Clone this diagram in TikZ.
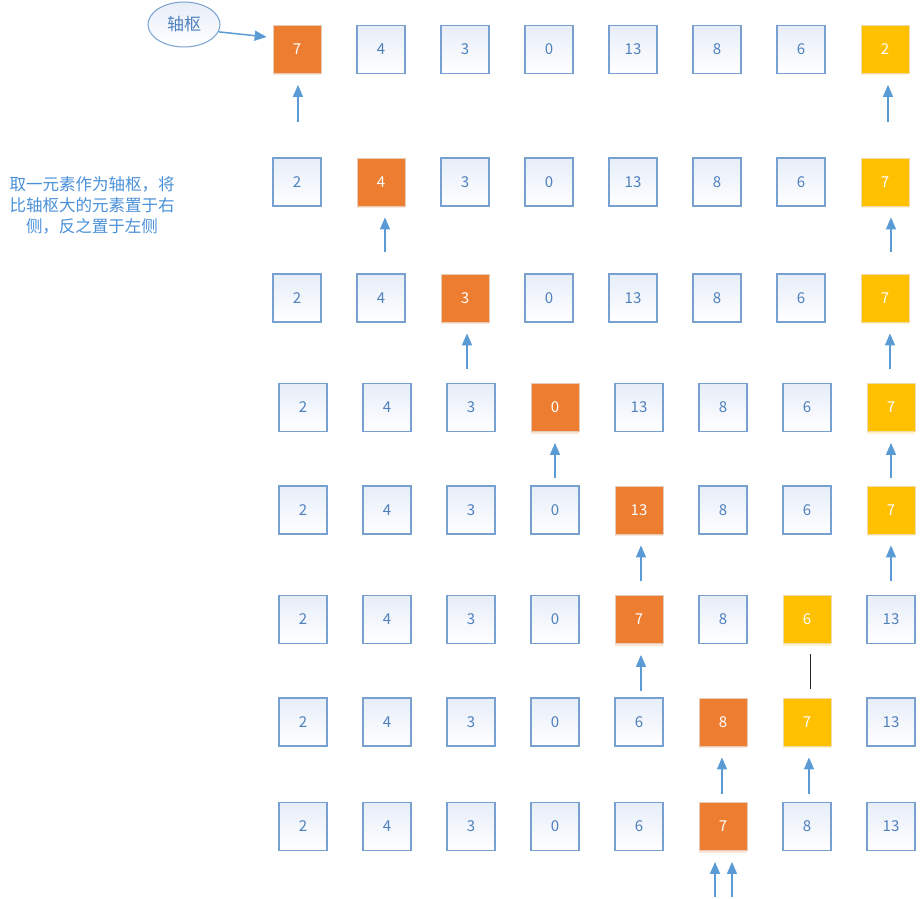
\documentclass[tikz,border=0pt]{standalone}
\usepackage{fontspec}
\setmainfont{Noto Sans CJK SC}
\usetikzlibrary{arrows.meta,positioning,shapes.geometric,shadows}
\definecolor{pivorange}{RGB}{237,125,49}
\definecolor{endyellow}{RGB}{255,192,0}
\definecolor{cellline}{RGB}{120,160,208}
\definecolor{cellfill}{RGB}{231,237,248}
\definecolor{celltext}{RGB}{79,129,189}
\definecolor{arrowblue}{RGB}{91,155,213}
\definecolor{notetext}{RGB}{74,144,217}

\begin{document}
\begin{tikzpicture}[
    x=1pt,y=-1pt,
    box/.style={rectangle,minimum width=48pt,minimum height=48pt,inner sep=0pt,
                font=\fontsize{15}{15}\selectfont},
    numbox/.style={box,draw=cellline,line width=1.1pt,top color=cellfill,
                   bottom color=white,text=celltext},
    pivbox/.style={box,draw=pivorange!60!gray!40,line width=0.8pt,fill=pivorange,text=white,
                   drop shadow={shadow xshift=0pt,shadow yshift=-2pt,fill=pivorange!40,opacity=0.5}},
    endbox/.style={box,draw=endyellow!60!gray!40,line width=0.8pt,fill=endyellow,text=white,
                   drop shadow={shadow xshift=0pt,shadow yshift=-2pt,fill=endyellow!40,opacity=0.5}},
    arr/.style={-{Triangle[width=10pt,length=12pt]},line width=1.5pt,color=arrowblue,
                shorten >=11pt}
  ]
  \useasboundingbox (0,0) rectangle (922,899);

  % label and note
  \node[ellipse,draw=cellline,line width=1pt,top color=cellfill,bottom color=white,
        minimum width=72pt,minimum height=45pt,inner sep=0pt,text=celltext,
        font=\fontsize{17}{17}\selectfont] (piv) at (184,24.5) {轴枢};
  \node[text=notetext,align=center,font=\fontsize{16.5}{21}\selectfont] (note) at (92,205)
    {取一元素作为轴枢，将\\比轴枢大的元素置于右\\侧，反之置于左侧};

  % rows of the array
  \foreach \r/\x/\y/\cells in {
      1/297/49.5/{7/pivbox,4/numbox,3/numbox,0/numbox,13/numbox,8/numbox,6/numbox,2/endbox},
      2/297/182/{2/numbox,4/pivbox,3/numbox,0/numbox,13/numbox,8/numbox,6/numbox,7/endbox},
      3/297/298/{2/numbox,4/numbox,3/pivbox,0/numbox,13/numbox,8/numbox,6/numbox,7/endbox},
      4/303/407.5/{2/numbox,4/numbox,3/numbox,0/pivbox,13/numbox,8/numbox,6/numbox,7/endbox},
      5/303/510/{2/numbox,4/numbox,3/numbox,0/numbox,13/pivbox,8/numbox,6/numbox,7/endbox},
      6/303/619.5/{2/numbox,4/numbox,3/numbox,0/numbox,7/pivbox,8/numbox,6/endbox,13/numbox},
      7/303/722/{2/numbox,4/numbox,3/numbox,0/numbox,6/numbox,8/pivbox,7/endbox,13/numbox},
      8/303/826.5/{2/numbox,4/numbox,3/numbox,0/numbox,6/numbox,7/pivbox,8/numbox,13/numbox}}
    \foreach \v/\s [count=\c] in \cells
      \node[\s] (r\r-\c) at ({\x+84*(\c-1)},\y) {\v};

  % arrow tails
  \coordinate (a1) at (298,122);
  \coordinate (a2) at (888,122);
  \coordinate (a3) at (385,252);
  \coordinate (a4) at (891,252);
  \coordinate (a5) at (467,369);
  \coordinate (a6) at (890,369);
  \coordinate (a7) at (555,478);
  \coordinate (a8) at (891,478);
  \coordinate (a9) at (641,581);
  \coordinate (a10) at (891,581);
  \coordinate (a11) at (641,691);
  \coordinate (a12) at (722,794);
  \coordinate (a13) at (809,794);
  \coordinate (a14) at (715,897);
  \coordinate (a15) at (732,897);
  \coordinate (l1) at (810,654);

  \draw[arr,shorten >=6pt] (piv.-12) -- (r1-1.154);
  \draw[arr] (a1) -- (a1 |- r1-1.south);
  \draw[arr] (a2) -- (a2 |- r1-8.south);
  \draw[arr] (a3) -- (a3 |- r2-2.south);
  \draw[arr] (a4) -- (a4 |- r2-8.south);
  \draw[arr] (a5) -- (a5 |- r3-3.south);
  \draw[arr] (a6) -- (a6 |- r3-8.south);
  \draw[arr] (a7) -- (a7 |- r4-4.south);
  \draw[arr] (a8) -- (a8 |- r4-8.south);
  \draw[arr] (a9) -- (a9 |- r5-5.south);
  \draw[arr] (a10) -- (a10 |- r5-8.south);
  \draw[arr] (a11) -- (a11 |- r6-5.south);
  \draw[line width=1pt,black!85,shorten >=9pt] (l1) -- (l1 |- r7-7.north);
  \draw[arr] (a12) -- (a12 |- r7-6.south);
  \draw[arr] (a13) -- (a13 |- r7-7.south);
  \draw[arr] (a14) -- (a14 |- r8-6.south);
  \draw[arr] (a15) -- (a15 |- r8-6.south);
\end{tikzpicture}
\end{document}
